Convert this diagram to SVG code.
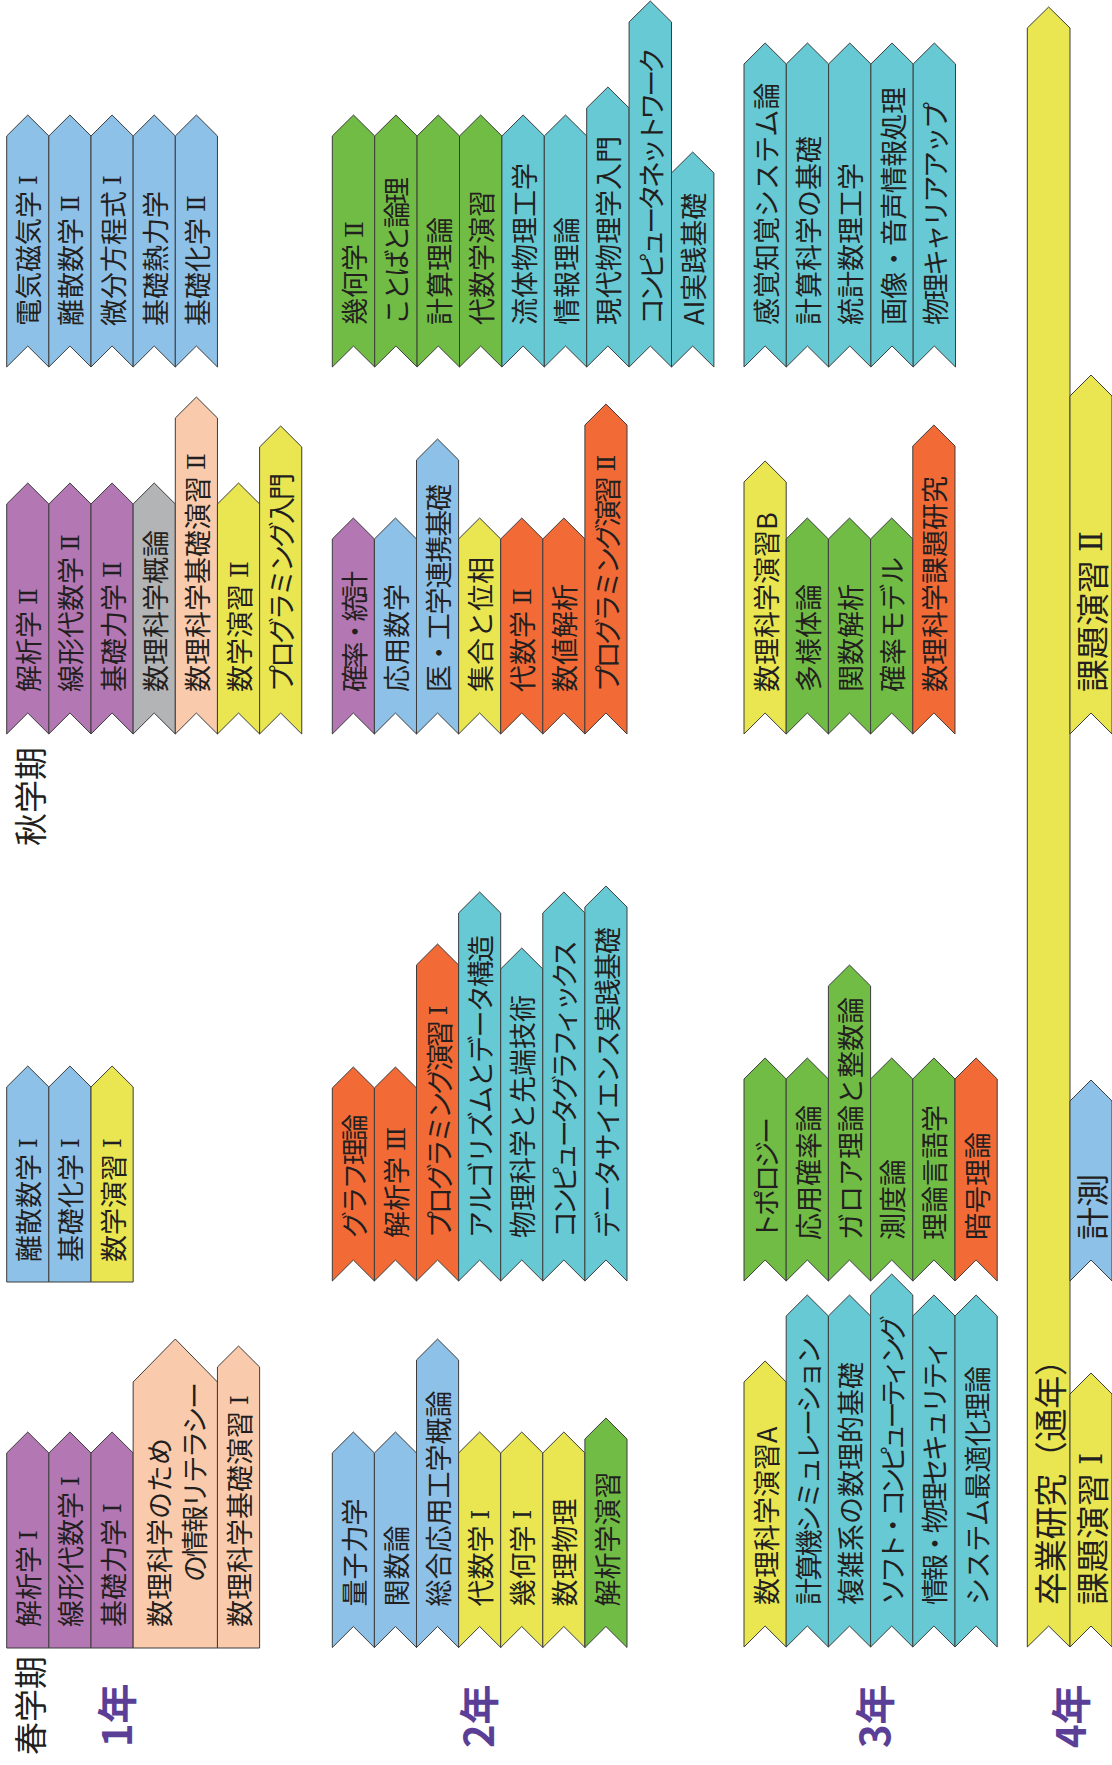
<svg xmlns="http://www.w3.org/2000/svg" width="1112" height="1765" viewBox="0 0 1112 1765">
<style>
path{stroke:#3d3d3d;stroke-width:1;stroke-linejoin:miter}
.b{fill:#8ec1e8}.p{fill:#b377b3}.g{fill:#b3b4b6}.pe{fill:#f9cbac}.y{fill:#e9e651}.gr{fill:#71bc45}.c{fill:#66c9d4}.o{fill:#f26b36}
text{font-family:"Noto Sans CJK JP","Noto Sans",sans-serif;fill:#231f20;dominant-baseline:central}
.t{font-size:27px}
.tl{font-size:33px}
.r{font-family:"DejaVu Serif","Liberation Serif",serif;font-size:25px}
.tl .r{font-size:31px}
.lab{font-size:33px}
.yr{font-size:40px;font-weight:bold;fill:#5b3f97}
</style>
<rect width="1112" height="1765" fill="#fff"/>
<g id="connectors"/>

<!-- 1年 秋 上 -->
<g id="A1"><path class="b" d="M6.7,136 l21.08,-21 l21.08,21 V367 l-21.08,-21 l-21.08,21 Z"/><text class="t" transform="translate(27.8,326) rotate(-90)">電気磁気学<tspan class="r" dx="6">Ⅰ</tspan></text></g>
<g id="A2"><path class="b" d="M48.85,136 l21.08,-21 l21.08,21 V367 l-21.08,-21 l-21.08,21 Z"/><text class="t" transform="translate(69.9,326) rotate(-90)">離散数学<tspan class="r" dx="6">Ⅱ</tspan></text></g>
<g id="A3"><path class="b" d="M91,136 l21.08,-21 l21.08,21 V367 l-21.08,-21 l-21.08,21 Z"/><text class="t" transform="translate(112.1,326) rotate(-90)">微分方程式<tspan class="r" dx="6">Ⅰ</tspan></text></g>
<g id="A4"><path class="b" d="M133.15,136 l21.08,-21 l21.08,21 V367 l-21.08,-21 l-21.08,21 Z"/><text class="t" transform="translate(154.2,326) rotate(-90)">基礎熱力学</text></g>
<g id="A5"><path class="b" d="M175.3,136 l21.08,-21 l21.08,21 V367 l-21.08,-21 l-21.08,21 Z"/><text class="t" transform="translate(196.4,326) rotate(-90)">基礎化学<tspan class="r" dx="6">Ⅱ</tspan></text></g>

<!-- 1年 秋 下 -->
<g id="B1"><path class="p" d="M6.7,504 l21.08,-21 l21.08,21 V734 l-21.08,-21 l-21.08,21 Z"/><text class="t" transform="translate(27.8,692) rotate(-90)">解析学<tspan class="r" dx="6">Ⅱ</tspan></text></g>
<g id="B2"><path class="p" d="M48.85,504 l21.08,-21 l21.08,21 V734 l-21.08,-21 l-21.08,21 Z"/><text class="t" transform="translate(69.9,692) rotate(-90)">線形代数学<tspan class="r" dx="6">Ⅱ</tspan></text></g>
<g id="B3"><path class="p" d="M91,504 l21.08,-21 l21.08,21 V734 l-21.08,-21 l-21.08,21 Z"/><text class="t" transform="translate(112.1,692) rotate(-90)">基礎力学<tspan class="r" dx="6">Ⅱ</tspan></text></g>
<g id="B4"><path class="g" d="M133.15,504 l21.08,-21 l21.08,21 V734 l-21.08,-21 l-21.08,21 Z"/><text class="t" transform="translate(154.2,692) rotate(-90)">数理科学概論</text></g>
<g id="B5"><path class="pe" d="M175.3,418 l21.08,-21 l21.08,21 V734 l-21.08,-21 l-21.08,21 Z"/><text class="t" transform="translate(196.4,692) rotate(-90)">数理科学基礎演習<tspan class="r" dx="6">Ⅱ</tspan></text></g>
<g id="B6"><path class="y" d="M217.45,504 l21.08,-21 l21.08,21 V734 l-21.08,-21 l-21.08,21 Z"/><text class="t" transform="translate(238.5,692) rotate(-90)">数学演習<tspan class="r" dx="6">Ⅱ</tspan></text></g>
<g id="B7"><path class="y" d="M259.6,447 l21.08,-21 l21.08,21 V734 l-21.08,-21 l-21.08,21 Z"/><text class="t" transform="translate(280.7,692) rotate(-90)" textLength="219" lengthAdjust="spacing">プログラミング入門</text></g>

<!-- 1年 春 上 -->
<g id="C1"><path class="b" d="M6.7,1087 l21.08,-21 l21.08,21 V1282 H6.7 Z"/><text class="t" transform="translate(27.8,1262) rotate(-90)">離散数学<tspan class="r" dx="6">Ⅰ</tspan></text></g>
<g id="C2"><path class="b" d="M48.85,1087 l21.08,-21 l21.08,21 V1282 H48.85 Z"/><text class="t" transform="translate(69.9,1262) rotate(-90)">基礎化学<tspan class="r" dx="6">Ⅰ</tspan></text></g>
<g id="C3"><path class="y" d="M91,1087 l21.08,-21 l21.08,21 V1282 H91 Z"/><text class="t" transform="translate(112.1,1262) rotate(-90)">数学演習<tspan class="r" dx="6">Ⅰ</tspan></text></g>

<!-- 1年 春 下 -->
<g id="D1"><path class="p" d="M6.7,1453 l21.08,-21 l21.08,21 V1648 H6.7 Z"/><text class="t" transform="translate(27.8,1627) rotate(-90)">解析学<tspan class="r" dx="6">Ⅰ</tspan></text></g>
<g id="D2"><path class="p" d="M48.85,1453 l21.08,-21 l21.08,21 V1648 H48.85 Z"/><text class="t" transform="translate(69.9,1627) rotate(-90)">線形代数学<tspan class="r" dx="6">Ⅰ</tspan></text></g>
<g id="D3"><path class="p" d="M91,1453 l21.08,-21 l21.08,21 V1648 H91 Z"/><text class="t" transform="translate(112.1,1627) rotate(-90)">基礎力学<tspan class="r" dx="6">Ⅰ</tspan></text></g>
<g id="D4"><path class="pe" d="M133.15,1382 l42.15,-43 l42.15,43 V1648 H133.15 Z"/><text class="t" transform="translate(158.3,1627) rotate(-90)">数理科学のため</text><text class="t" transform="translate(193.3,1582) rotate(-90)" textLength="200" lengthAdjust="spacing">の情報リテラシー</text></g>
<g id="D5"><path class="pe" d="M217.45,1367 l21.08,-21 l21.08,21 V1648 H217.45 Z"/><text class="t" transform="translate(238.5,1627) rotate(-90)">数理科学基礎演習<tspan class="r" dx="6">Ⅰ</tspan></text></g>

<!-- 2年 秋 上 -->
<g id="E1"><path class="gr" d="M332.3,136 l21.2,-21 l21.2,21 V367 l-21.2,-21 l-21.2,21 Z"/><text class="t" transform="translate(353.5,325) rotate(-90)">幾何学<tspan class="r" dx="6">Ⅱ</tspan></text></g>
<g id="E2"><path class="gr" d="M374.7,136 l21.2,-21 l21.2,21 V367 l-21.2,-21 l-21.2,21 Z"/><text class="t" transform="translate(395.9,325) rotate(-90)" textLength="148" lengthAdjust="spacing">ことばと論理</text></g>
<g id="E3"><path class="gr" d="M417.1,136 l21.2,-21 l21.2,21 V367 l-21.2,-21 l-21.2,21 Z"/><text class="t" transform="translate(438.3,325) rotate(-90)">計算理論</text></g>
<g id="E4"><path class="gr" d="M459.5,136 l21.2,-21 l21.2,21 V367 l-21.2,-21 l-21.2,21 Z"/><text class="t" transform="translate(480.7,325) rotate(-90)">代数学演習</text></g>
<g id="E5"><path class="c" d="M501.9,136 l21.2,-21 l21.2,21 V367 l-21.2,-21 l-21.2,21 Z"/><text class="t" transform="translate(523.1,325) rotate(-90)">流体物理工学</text></g>
<g id="E6"><path class="c" d="M544.3,136 l21.2,-21 l21.2,21 V367 l-21.2,-21 l-21.2,21 Z"/><text class="t" transform="translate(565.5,325) rotate(-90)">情報理論</text></g>
<g id="E7"><path class="c" d="M586.7,108 l21.2,-21 l21.2,21 V367 l-21.2,-21 l-21.2,21 Z"/><text class="t" transform="translate(607.9,325) rotate(-90)">現代物理学入門</text></g>
<g id="E8"><path class="c" d="M629.1,22 l21.2,-21 l21.2,21 V367 l-21.2,-21 l-21.2,21 Z"/><text class="t" transform="translate(650.3,325) rotate(-90)" textLength="278" lengthAdjust="spacing">コンピュータネットワーク</text></g>
<g id="E9"><path class="c" d="M671.5,173 l21.2,-21 l21.2,21 V367 l-21.2,-21 l-21.2,21 Z"/><text class="t" transform="translate(692.7,325) rotate(-90)">AI実践基礎</text></g>

<!-- 2年 秋 下 -->
<g id="F1"><path class="p" d="M332.3,539 l21.05,-21 l21.05,21 V734 l-21.05,-21 l-21.05,21 Z"/><text class="t" transform="translate(353.4,692) rotate(-90)" textLength="121" lengthAdjust="spacing">確率・統計</text></g>
<g id="F2"><path class="b" d="M374.4,539 l21.05,-21 l21.05,21 V734 l-21.05,-21 l-21.05,21 Z"/><text class="t" transform="translate(395.5,692) rotate(-90)">応用数学</text></g>
<g id="F3"><path class="b" d="M416.5,460 l21.05,-21 l21.05,21 V734 l-21.05,-21 l-21.05,21 Z"/><text class="t" transform="translate(437.6,692) rotate(-90)" textLength="208" lengthAdjust="spacing">医・工学連携基礎</text></g>
<g id="F4"><path class="y" d="M458.6,539 l21.05,-21 l21.05,21 V734 l-21.05,-21 l-21.05,21 Z"/><text class="t" transform="translate(479.7,692) rotate(-90)">集合と位相</text></g>
<g id="F5"><path class="o" d="M500.7,539 l21.05,-21 l21.05,21 V734 l-21.05,-21 l-21.05,21 Z"/><text class="t" transform="translate(521.8,692) rotate(-90)">代数学<tspan class="r" dx="6">Ⅱ</tspan></text></g>
<g id="F6"><path class="o" d="M542.8,539 l21.05,-21 l21.05,21 V734 l-21.05,-21 l-21.05,21 Z"/><text class="t" transform="translate(563.9,692) rotate(-90)">数値解析</text></g>
<g id="F7"><path class="o" d="M584.9,425 l21.05,-21 l21.05,21 V734 l-21.05,-21 l-21.05,21 Z"/><text class="t" transform="translate(606,692) rotate(-90)"><tspan textLength="216" lengthAdjust="spacing">プログラミング演習</tspan><tspan class="r" dx="8">Ⅱ</tspan></text></g>

<!-- 2年 春 上 -->
<g id="G1"><path class="o" d="M332.3,1088 l21.05,-21 l21.05,21 V1281 l-21.05,-21 l-21.05,21 Z"/><text class="t" transform="translate(353.4,1238) rotate(-90)" textLength="124" lengthAdjust="spacing">グラフ理論</text></g>
<g id="G2"><path class="o" d="M374.4,1088 l21.05,-21 l21.05,21 V1281 l-21.05,-21 l-21.05,21 Z"/><text class="t" transform="translate(395.5,1238) rotate(-90)">解析学<tspan class="r" dx="6">Ⅲ</tspan></text></g>
<g id="G3"><path class="o" d="M416.5,965 l21.05,-21 l21.05,21 V1281 l-21.05,-21 l-21.05,21 Z"/><text class="t" transform="translate(437.6,1238) rotate(-90)"><tspan textLength="218" lengthAdjust="spacing">プログラミング演習</tspan><tspan class="r" dx="8">Ⅰ</tspan></text></g>
<g id="G4"><path class="c" d="M458.6,913 l21.05,-21 l21.05,21 V1281 l-21.05,-21 l-21.05,21 Z"/><text class="t" transform="translate(479.7,1238) rotate(-90)" textLength="303" lengthAdjust="spacing">アルゴリズムとデータ構造</text></g>
<g id="G5"><path class="c" d="M500.7,969 l21.05,-21 l21.05,21 V1281 l-21.05,-21 l-21.05,21 Z"/><text class="t" transform="translate(521.8,1238) rotate(-90)">物理科学と先端技術</text></g>
<g id="G6"><path class="c" d="M542.8,913 l21.05,-21 l21.05,21 V1281 l-21.05,-21 l-21.05,21 Z"/><text class="t" transform="translate(563.9,1238) rotate(-90)" textLength="298" lengthAdjust="spacing">コンピュータグラフィックス</text></g>
<g id="G7"><path class="c" d="M584.9,907 l21.05,-21 l21.05,21 V1281 l-21.05,-21 l-21.05,21 Z"/><text class="t" transform="translate(606,1238) rotate(-90)" textLength="311" lengthAdjust="spacing">データサイエンス実践基礎</text></g>

<!-- 2年 春 下 -->
<g id="H1"><path class="b" d="M332.3,1453 l21.05,-21 l21.05,21 V1647.5 l-21.05,-21 l-21.05,21 Z"/><text class="t" transform="translate(353.4,1606.5) rotate(-90)">量子力学</text></g>
<g id="H2"><path class="b" d="M374.4,1453 l21.05,-21 l21.05,21 V1647.5 l-21.05,-21 l-21.05,21 Z"/><text class="t" transform="translate(395.5,1606.5) rotate(-90)">関数論</text></g>
<g id="H3"><path class="b" d="M416.5,1360 l21.05,-21 l21.05,21 V1647.5 l-21.05,-21 l-21.05,21 Z"/><text class="t" transform="translate(437.6,1606.5) rotate(-90)">総合応用工学概論</text></g>
<g id="H4"><path class="y" d="M458.6,1453 l21.05,-21 l21.05,21 V1647.5 l-21.05,-21 l-21.05,21 Z"/><text class="t" transform="translate(479.7,1606.5) rotate(-90)">代数学<tspan class="r" dx="6">Ⅰ</tspan></text></g>
<g id="H5"><path class="y" d="M500.7,1453 l21.05,-21 l21.05,21 V1647.5 l-21.05,-21 l-21.05,21 Z"/><text class="t" transform="translate(521.8,1606.5) rotate(-90)">幾何学<tspan class="r" dx="6">Ⅰ</tspan></text></g>
<g id="H6"><path class="y" d="M542.8,1453 l21.05,-21 l21.05,21 V1647.5 l-21.05,-21 l-21.05,21 Z"/><text class="t" transform="translate(563.9,1606.5) rotate(-90)">数理物理</text></g>
<g id="H7"><path class="gr" d="M584.9,1439 l21.05,-21 l21.05,21 V1647.5 l-21.05,-21 l-21.05,21 Z"/><text class="t" transform="translate(606,1606.5) rotate(-90)">解析学演習</text></g>

<!-- 3年 秋 上 -->
<g id="I1"><path class="c" d="M744,64 l21.15,-21 l21.15,21 V367 l-21.15,-21 l-21.15,21 Z"/><text class="t" transform="translate(765.2,325) rotate(-90)">感覚知覚システム論</text></g>
<g id="I2"><path class="c" d="M786.3,64 l21.15,-21 l21.15,21 V367 l-21.15,-21 l-21.15,21 Z"/><text class="t" transform="translate(807.5,325) rotate(-90)">計算科学の基礎</text></g>
<g id="I3"><path class="c" d="M828.6,64 l21.15,-21 l21.15,21 V367 l-21.15,-21 l-21.15,21 Z"/><text class="t" transform="translate(849.8,325) rotate(-90)">統計数理工学</text></g>
<g id="I4"><path class="c" d="M870.9,64 l21.15,-21 l21.15,21 V367 l-21.15,-21 l-21.15,21 Z"/><text class="t" transform="translate(892.1,325) rotate(-90)" textLength="238" lengthAdjust="spacing">画像・音声情報処理</text></g>
<g id="I5"><path class="c" d="M913.2,64 l21.15,-21 l21.15,21 V367 l-21.15,-21 l-21.15,21 Z"/><text class="t" transform="translate(934.4,325) rotate(-90)" textLength="223" lengthAdjust="spacing">物理キャリアアップ</text></g>

<!-- 3年 秋 下 -->
<g id="J1"><path class="y" d="M744,482 l21.1,-21 l21.1,21 V734 l-21.1,-21 l-21.1,21 Z"/><text class="t" transform="translate(765.1,692) rotate(-90)">数理科学演習B</text></g>
<g id="J2"><path class="gr" d="M786.2,539 l21.1,-21 l21.1,21 V734 l-21.1,-21 l-21.1,21 Z"/><text class="t" transform="translate(807.3,692) rotate(-90)">多様体論</text></g>
<g id="J3"><path class="gr" d="M828.4,539 l21.1,-21 l21.1,21 V734 l-21.1,-21 l-21.1,21 Z"/><text class="t" transform="translate(849.5,692) rotate(-90)">関数解析</text></g>
<g id="J4"><path class="gr" d="M870.6,539 l21.1,-21 l21.1,21 V734 l-21.1,-21 l-21.1,21 Z"/><text class="t" transform="translate(891.7,692) rotate(-90)">確率モデル</text></g>
<g id="J5"><path class="o" d="M912.8,446 l21.1,-21 l21.1,21 V734 l-21.1,-21 l-21.1,21 Z"/><text class="t" transform="translate(933.9,692) rotate(-90)">数理科学課題研究</text></g>

<!-- 3年 春 上 -->
<g id="K1"><path class="gr" d="M744,1079 l21.1,-21 l21.1,21 V1281 l-21.1,-21 l-21.1,21 Z"/><text class="t" transform="translate(765.1,1240) rotate(-90)" textLength="123" lengthAdjust="spacing">トポロジー</text></g>
<g id="K2"><path class="gr" d="M786.2,1079 l21.1,-21 l21.1,21 V1281 l-21.1,-21 l-21.1,21 Z"/><text class="t" transform="translate(807.3,1240) rotate(-90)">応用確率論</text></g>
<g id="K3"><path class="gr" d="M828.4,986 l21.1,-21 l21.1,21 V1281 l-21.1,-21 l-21.1,21 Z"/><text class="t" transform="translate(849.5,1240) rotate(-90)">ガロア理論と整数論</text></g>
<g id="K4"><path class="gr" d="M870.6,1079 l21.1,-21 l21.1,21 V1281 l-21.1,-21 l-21.1,21 Z"/><text class="t" transform="translate(891.7,1240) rotate(-90)">測度論</text></g>
<g id="K5"><path class="gr" d="M912.8,1079 l21.1,-21 l21.1,21 V1281 l-21.1,-21 l-21.1,21 Z"/><text class="t" transform="translate(933.9,1240) rotate(-90)">理論言語学</text></g>
<g id="K6"><path class="o" d="M955,1079 l21.1,-21 l21.1,21 V1281 l-21.1,-21 l-21.1,21 Z"/><text class="t" transform="translate(976.1,1240) rotate(-90)">暗号理論</text></g>

<!-- 3年 春 下 -->
<g id="L1"><path class="y" d="M744,1382 l21.1,-21 l21.1,21 V1647 l-21.1,-21 l-21.1,21 Z"/><text class="t" transform="translate(765.1,1605) rotate(-90)">数理科学演習A</text></g>
<g id="L2"><path class="c" d="M786.2,1316 l21.1,-21 l21.1,21 V1647 l-21.1,-21 l-21.1,21 Z"/><text class="t" transform="translate(807.3,1605) rotate(-90)" textLength="268" lengthAdjust="spacing">計算機シミュレーション</text></g>
<g id="L3"><path class="c" d="M828.4,1316 l21.1,-21 l21.1,21 V1647 l-21.1,-21 l-21.1,21 Z"/><text class="t" transform="translate(849.5,1605) rotate(-90)">複雑系の数理的基礎</text></g>
<g id="L4"><path class="c" d="M870.6,1295 l21.1,-21 l21.1,21 V1647 l-21.1,-21 l-21.1,21 Z"/><text class="t" transform="translate(891.7,1605) rotate(-90)" textLength="290" lengthAdjust="spacing">ソフト・コンピューティング</text></g>
<g id="L5"><path class="c" d="M912.8,1316 l21.1,-21 l21.1,21 V1647 l-21.1,-21 l-21.1,21 Z"/><text class="t" transform="translate(933.9,1605) rotate(-90)" textLength="265" lengthAdjust="spacing">情報・物理セキュリティ</text></g>
<g id="L6"><path class="c" d="M955,1316 l21.1,-21 l21.1,21 V1647 l-21.1,-21 l-21.1,21 Z"/><text class="t" transform="translate(976.1,1605) rotate(-90)" textLength="239" lengthAdjust="spacing">システム最適化理論</text></g>

<!-- 4年 -->
<g id="Y1"><path class="y" d="M1027.3,28 l21.35,-21 l21.35,21 V1647 l-21.35,-21 l-21.35,21 Z"/><text class="tl" transform="translate(1048.7,1605) rotate(-90)" textLength="262" lengthAdjust="spacing">卒業研究（通年）</text></g>
<g id="Y2"><path class="y" d="M1070,396 l21,-21 l21,21 V734 l-21,-21 l-21,21 Z"/><text class="tl" transform="translate(1091,692) rotate(-90)">課題演習<tspan class="r" dx="8">Ⅱ</tspan></text></g>
<g id="Y3"><path class="b" d="M1070,1101 l21,-21 l21,21 V1281 l-21,-21 l-21,21 Z"/><text class="tl" transform="translate(1091,1240) rotate(-90)">計測</text></g>
<g id="Y4"><path class="y" d="M1070,1394 l21,-21 l21,21 V1647 l-21,-21 l-21,21 Z"/><text class="tl" transform="translate(1091,1605) rotate(-90)">課題演習<tspan class="r" dx="8">Ⅰ</tspan></text></g>

<!-- labels -->
<g id="labels">
<text class="lab" transform="translate(29,846) rotate(-90)">秋学期</text>
<text class="lab" transform="translate(29,1755) rotate(-90)">春学期</text>
<text class="yr" transform="translate(115,1747) rotate(-90)">1年</text>
<text class="yr" transform="translate(476.7,1748) rotate(-90)">2年</text>
<text class="yr" transform="translate(872.5,1748) rotate(-90)">3年</text>
<text class="yr" transform="translate(1069,1748) rotate(-90)">4年</text>
</g>
</svg>
